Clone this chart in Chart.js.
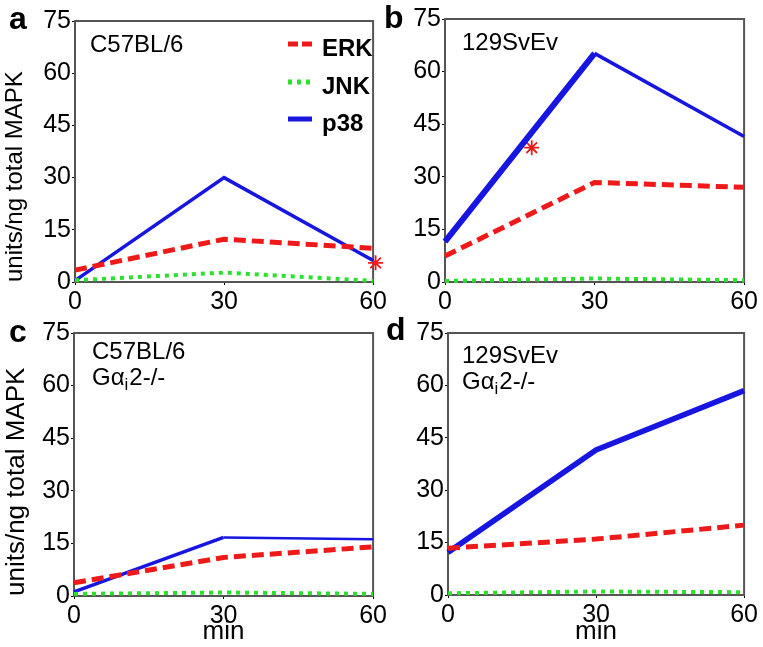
<!DOCTYPE html>
<html><head><meta charset="utf-8">
<script src="https://cdn.jsdelivr.net/npm/chart.js@4/dist/chart.umd.min.js"></script>
<style>
html,body{margin:0;padding:0;background:#fff;}
#wrap{position:relative;width:763px;height:647px;overflow:hidden;background:#fff;}
canvas{position:absolute;}
</style></head><body>
<div id="wrap">
<canvas id="pa" width="392" height="318" style="left:0;top:0"></canvas>
<canvas id="pb" width="393" height="318" style="left:370px;top:0"></canvas>
<canvas id="pc" width="392" height="337" style="left:0;top:310px"></canvas>
<canvas id="pd" width="393" height="337" style="left:370px;top:310px"></canvas>
</div>
<script>
// ---- data ----
const minutes = [0, 30, 60];
const xTicks = [0, 30, 60];
const yTicks = [0, 15, 30, 45, 60, 75];
const seriesNames = ['ERK', 'JNK', 'p38'];

const erkA = [3.4, 12.3, 9.7];
const jnkA = [0.5, 2.7, 0.3];
const p38A = [0.4, 30.0, 6.2];
const starA = [60.5, 5.5];

const erkB = [7.4, 28.4, 27.0];
const jnkB = [0.3, 1.0, 0.5];
const p38B = [11.5, 65.2, 41.5];
const starB = [17.4, 38.3];

const erkC = [3.8, 11.0, 14.0];
const jnkC = [0.6, 1.0, 0.6];
const p38C = [1.2, 16.7, 16.2];

const erkD = [13.4, 16.0, 20.0];
const jnkD = [0.5, 1.0, 0.8];
const p38D = [12.2, 41.5, 58.5];

const panelLetters = ['a', 'b', 'c', 'd'];
const strainA = ['C57BL/6'];
const strainB = ['129SvEv'];
const strainC = ['C57BL/6', 'Gα|i|2-/-'];
const strainD = ['129SvEv', 'Gα|i|2-/-'];
const yTitle = 'units/ng total MAPK';
const xTitle = 'min';

// ---- styles ----
const FONT = "'Liberation Sans', Arial, sans-serif";
const RED = '#ee1a1a', GREEN = '#2ee02e', BLUE = '#1616e0';

function pts(vals){ return minutes.map((m,i)=>({x:m, y:vals[i]})); }

const framePlugin = {
  id:'frame',
  beforeDatasetsDraw(chart){
    const a = chart.chartArea, c = chart.ctx;
    c.save(); c.strokeStyle = '#555'; c.lineWidth = 2;
    c.strokeRect(a.left, a.top, a.right - a.left, a.bottom - a.top);
    c.restore();
  }
};

function drawStrain(c, text, x, y){
  const parts = text.split('|');
  c.font = '24px ' + FONT; c.textBaseline = 'alphabetic'; c.fillStyle = '#000'; c.textAlign='left';
  if (parts.length === 1){ c.fillText(text, x, y); return; }
  c.fillText(parts[0], x, y); x += c.measureText(parts[0]).width;
  c.font = '17px ' + FONT; c.fillText(parts[1], x, y + 5); x += c.measureText(parts[1]).width + 1;
  c.font = '24px ' + FONT; c.fillText(parts[2], x, y);
}

function makePanel(id, cfg){
  const datasets = [
    {label: seriesNames[0], data: pts(cfg.erk), borderColor: RED, borderWidth: 5, borderDash: [12,6], pointRadius: 0, tension: 0, clip: false, borderCapStyle:'butt'},
    {label: seriesNames[1], data: pts(cfg.jnk), borderColor: GREEN, borderWidth: 4, borderDash: [4,5], pointRadius: 0, tension: 0, clip: false},
    {label: seriesNames[2], data: pts(cfg.p38), borderColor: BLUE, borderWidth: cfg.p38w[0], pointRadius: 0, tension: 0, clip: false,
      segment: {borderWidth: s => cfg.p38w[s.p0DataIndex]}}
  ];
  if (cfg.star) datasets.push({type:'scatter', label:'*', data:[{x:cfg.star[0], y:cfg.star[1]}], pointStyle:'star', pointRadius:7.5, borderColor:RED, backgroundColor:RED, borderWidth:1.8, showLine:false, clip:false});

  const annot = {
    id:'annot',
    afterDraw(chart){
      const c = chart.ctx; c.save();
      c.fillStyle = '#000'; c.font = 'bold 32px ' + FONT; c.textBaseline='alphabetic'; c.textAlign='left';
      c.fillText(cfg.letter, cfg.letterPos[0], cfg.letterPos[1]);
      cfg.strain.forEach((t,i)=> drawStrain(c, t, cfg.strainPos[0], cfg.strainPos[1] + i*26));
      if (cfg.legend){
        const dashes = [[10,4],[4,5],[]];
        for (let i=0;i<3;i++){
          const ds = chart.data.datasets[i];
          const y = cfg.legend.y[i];
          c.beginPath(); c.setLineDash(dashes[i]); c.strokeStyle = ds.borderColor; c.lineWidth = 5;
          c.moveTo(cfg.legend.x0, y); c.lineTo(cfg.legend.x1, y); c.stroke();
          c.setLineDash([]);
          c.font = 'bold 24px ' + FONT; c.fillStyle = '#000';
          c.fillText(ds.label, cfg.legend.tx, y + 12);
        }
      }
      c.restore();
    }
  };

  return new Chart(document.getElementById(id), {
    type:'line',
    data:{datasets},
    options:{
      responsive:false, animation:false, devicePixelRatio:1,
      layout:{padding:{top:cfg.padTop, right:cfg.padRight, left:0, bottom:0}},
      plugins:{legend:{display:false}, tooltip:{enabled:false}},
      scales:{
        x:{type:'linear', min:0, max:60,
          afterBuildTicks: s => { s.ticks = xTicks.map(v=>({value:v})); },
          afterFit: s => { s.height = cfg.xh; },
          grid:{drawOnChartArea:false, drawTicks:true, tickLength:3, color:'#000', lineWidth:1},
          border:{display:true, color:'#000', width:1.5},
          ticks:{font:{family:FONT, size:25, lineHeight:1}, color:'#000', padding:5, maxRotation:0, autoSkip:false},
          title: cfg.xTitle ? {display:true, text:xTitle, font:{family:FONT, size:26, lineHeight:1.2}, color:'#000', padding:{top:0,bottom:0}} : {display:false}
        },
        y:{type:'linear', min:0, max:75,
          afterBuildTicks: s => { s.ticks = yTicks.map(v=>({value:v})); },
          afterFit: s => { s.width = cfg.yw; },
          grid:{drawOnChartArea:false, drawTicks:true, tickLength:3, color:'#000', lineWidth:1},
          border:{display:true, color:'#000', width:1.5},
          ticks:{font:{family:FONT, size:25}, color:'#000', padding:1},
          title: cfg.yTitle ? {display:true, text:yTitle, align:'start', font:{family:FONT, size:cfg.yTitleSize, lineHeight:1.2}, color:'#000', padding:{top:1,bottom:0}} : {display:false}
        }
      }
    },
    plugins:[framePlugin, annot]
  });
}

makePanel('pa', {erk:erkA, jnk:jnkA, p38:p38A, p38w:[3.5,3.5], star:starA, padTop:21, padRight:16, xh:36, yw:75,
  yTitle:true, yTitleSize:24, xTitle:false, letter:panelLetters[0], letterPos:[9,29], strain:strainA, strainPos:[90,52],
  legend:{x0:288, x1:312, tx:322, y:[44,82,119]}});
makePanel('pb', {erk:erkB, jnk:jnkB, p38:p38B, p38w:[6,3.5], star:starB, padTop:19, padRight:16, xh:36, yw:75,
  yTitle:false, xTitle:false, letter:panelLetters[1], letterPos:[14,28], strain:strainB, strainPos:[92,50]});
makePanel('pc', {erk:erkC, jnk:jnkC, p38:p38C, p38w:[3.5,2.5], padTop:23, padRight:18, xh:51, yw:74,
  yTitle:true, yTitleSize:26, xTitle:true, letter:panelLetters[2], letterPos:[9,32], strain:strainC, strainPos:[92,49]});
makePanel('pd', {erk:erkD, jnk:jnkD, p38:p38D, p38w:[5.5,5.5], padTop:23, padRight:15, xh:52, yw:78,
  yTitle:false, xTitle:true, letter:panelLetters[3], letterPos:[16,30], strain:strainD, strainPos:[92,53]});
</script>
</body></html>
